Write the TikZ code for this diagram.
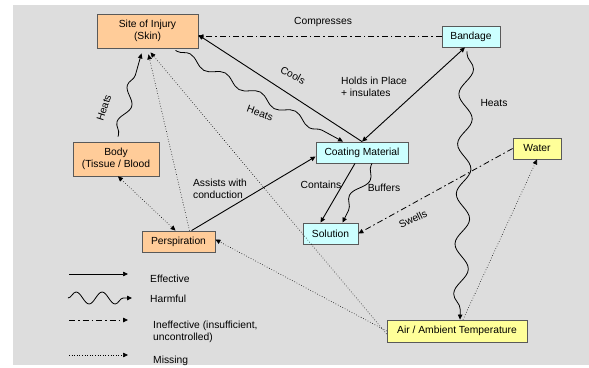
\documentclass[tikz,border=0pt]{standalone}
\usepackage{fontspec}
\setmainfont{Liberation Sans}
\usepackage{tikz}
\usetikzlibrary{calc,arrows.meta,decorations.pathmorphing}
\definecolor{skinfill}{HTML}{FFCC99}
\definecolor{cyanfill}{HTML}{CCFFFF}
\definecolor{yelfill}{HTML}{FFFF99}
\definecolor{paper}{HTML}{DDDDDD}
\newcommand{\lab}{\fontsize{10.3}{12.5}\selectfont}

\begin{document}
\begin{tikzpicture}[x=1pt,y=-1pt,every node/.style={font=\lab,align=center,inner sep=0pt},
    box/.style={draw=black!65,line width=0.8pt},
    tip/.style={-{Triangle[length=5pt,width=4.5pt]}},
    twotip/.style={{Triangle[length=5pt,width=4.5pt]}-{Triangle[length=5pt,width=4.5pt]}},
    eff/.style={tip,line width=0.9pt},
    harm/.style={tip,line width=0.8pt,decorate,decoration={snake,post length=6pt,pre length=2pt}},
    ineff/.style={tip,line width=0.8pt,dash pattern=on 6pt off 3pt on 1.5pt off 3pt},
    miss/.style={tip,line width=0.6pt,dotted}]

            % Define the page and its grey panel
            \useasboundingbox (0,0) rectangle (589,367);
            \fill[paper] (13,5) rectangle (589,365);

            % the boxes
            \node[box,fill=skinfill,minimum width=101pt,minimum height=34pt] (site) at (147.5,31) {Site of Injury\\(Skin)};
            \node[box,fill=cyanfill,minimum width=58pt,minimum height=21pt] (bandage) at (471,36.5) {Bandage};
            \node[box,fill=cyanfill,minimum width=92pt,minimum height=21pt] (coat) at (362,152.5) {Coating Material};
            \node[box,fill=yelfill,minimum width=48pt,minimum height=21pt] (water) at (537,148.5) {Water};
            \node[box,fill=skinfill,minimum width=86pt,minimum height=34pt] (body) at (116,159) {Body\\(Tissue / Blood};
            \node[box,fill=skinfill,minimum width=73pt,minimum height=21pt] (persp) at (178.5,241.5) {Perspiration};
            \node[box,fill=cyanfill,minimum width=55pt,minimum height=21pt] (solution) at (330.5,233.5) {Solution};
            \node[box,fill=yelfill,minimum width=140pt,minimum height=22pt] (air) at (457,331) {Air / Ambient Temperature};

            % the connectors
            \draw[ineff] (bandage.west) -- (site.east |- bandage.west);
            \draw[eff] (coat.north) -- ([yshift=-4pt]site.east);
            \draw[eff,twotip] ([xshift=-6pt]bandage.south) -- (coat.north);
            \draw[harm,decoration={segment length=40pt,amplitude=4pt}] ([xshift=28pt,yshift=-2pt]site.south) -- ([xshift=-19pt]coat.north);
            \draw[harm,decoration={segment length=38pt,amplitude=5pt}] ([xshift=2pt,yshift=5pt]body.north) -- ([xshift=-6pt,yshift=-5pt]site.south);
            \draw[miss] ([xshift=11pt]persp.north) -- ([xshift=1pt,yshift=-6pt]site.south);
            \draw[miss] ([yshift=-3pt]air.west) -- ([xshift=3pt,yshift=-4pt]site.south);
            \draw[miss] (air.west) -- ([yshift=2pt]persp.east);
            \draw[miss,twotip] ([xshift=2pt]body.south) -- ([xshift=-3pt]persp.north);
            \draw[eff] ([xshift=13pt]persp.north) -- ([yshift=-4pt]coat.west);
            \draw[eff] ([xshift=-7pt]coat.south) -- ([xshift=-10pt]solution.north);
            \draw[harm,decoration={segment length=45pt,amplitude=6pt}] ([xshift=10pt]coat.south) -- ([xshift=12pt]solution.north);
            \draw[ineff] (water.west) -- (solution.east);
            \draw[miss] ([xshift=6pt]air.north) -- (water.south);
            \draw[harm,decoration={segment length=50pt,amplitude=7pt}] ([xshift=-4pt,yshift=-4pt]bandage.south) -- ([xshift=3pt]air.north);

            % the labels
            \node (lcomp) at (323,22) {Compresses};
            \node[rotate=-28] (lcool) at (293,75) {Cools};
            \node[rotate=-20] (lheat1) at (260,113) {Heats};
            \node[align=left] (lhold) at (374,87) {Holds in Place\\+ insulates};
            \node (lheat2) at (494,103) {Heats};
            \node[rotate=72] (lheat3) at (104,108) {Heats};
            \node[align=left] (lassist) at (220,189) {Assists with\\conduction};
            \node (lcont) at (321,185) {Contains};
            \node (lbuff) at (384,188) {Buffers};
            \node[rotate=26] (lswell) at (413,219) {Swells};

            % the key
            \coordinate (ka) at (69,274); \coordinate (kb) at (128,274);
            \coordinate (kc) at (68,298); \coordinate (kd) at (132,298);
            \coordinate (ke) at (69,320); \coordinate (kf) at (128,320);
            \coordinate (kg) at (69,355); \coordinate (kh) at (128,355);
            \draw[eff,line width=0.7pt] (ka) -- (kb);
            \draw[harm,decoration={segment length=26pt,amplitude=6pt,pre length=0pt}] (kc) -- (kd);
            \draw[ineff] (ke) -- (kf);
            \draw[miss] (kg) -- (kh);
            \node[anchor=west] (keff) at (150,279) {Effective};
            \node[anchor=west] (kharm) at (150,299) {Harmful};
            \node[anchor=west,align=left] (kineff) at (153,332) {Ineffective (insufficient,\\uncontrolled)};
            \node[anchor=west] (kmiss) at (153,361) {Missing};

            \end{tikzpicture}
\end{document}
